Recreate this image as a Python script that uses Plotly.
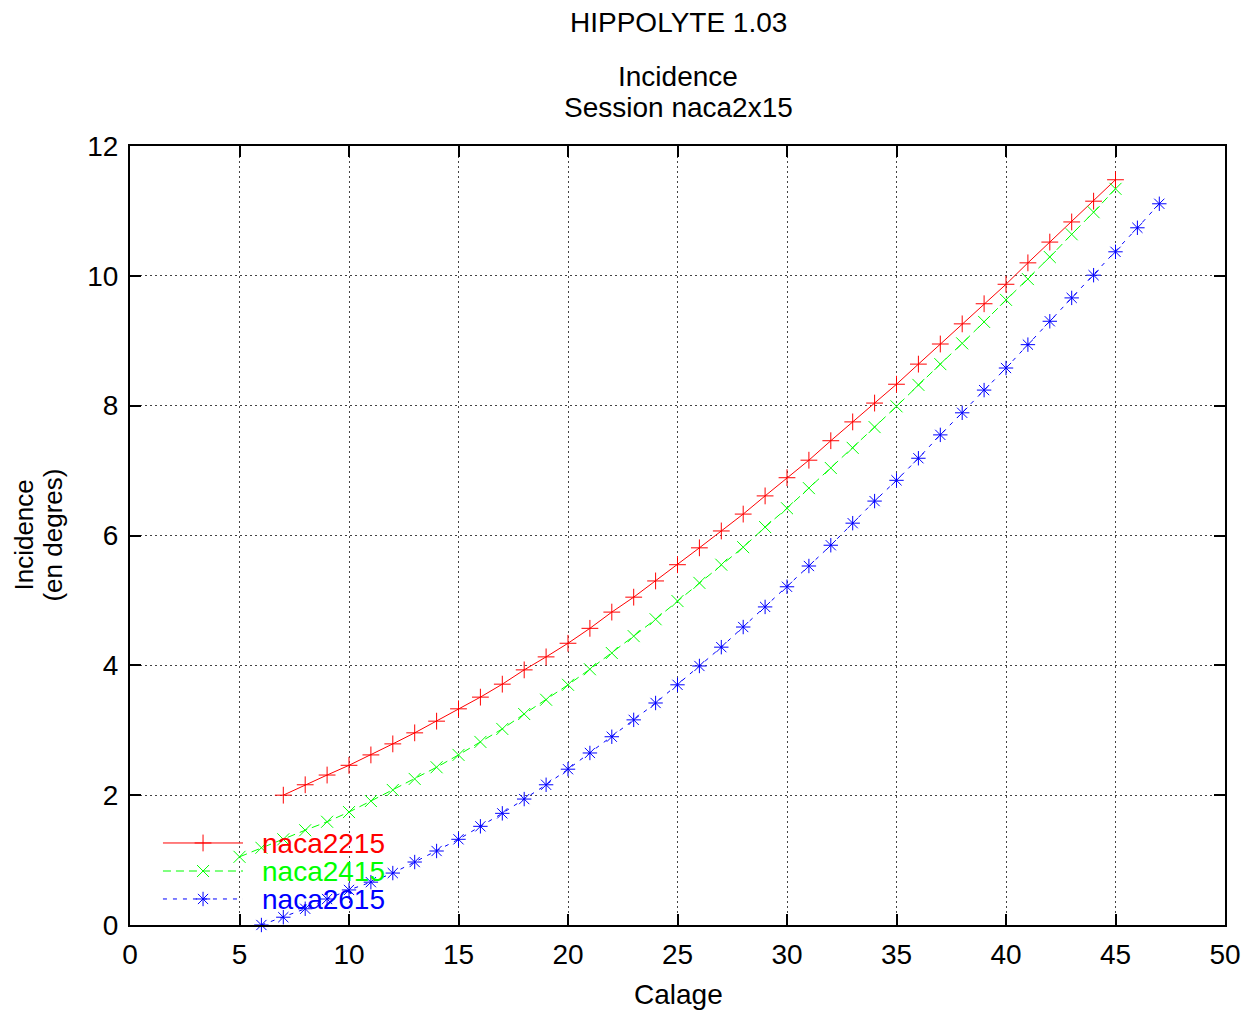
import plotly.graph_objects as go

# ---- data ----
calage_2215 = list(range(7, 46))
incidence_2215 = [2.00, 2.16, 2.31, 2.46, 2.62, 2.79, 2.96, 3.14, 3.33, 3.51,
                  3.71, 3.93, 4.13, 4.34, 4.57, 4.82, 5.05, 5.30, 5.55, 5.81,
                  6.07, 6.33, 6.61, 6.89, 7.16, 7.46, 7.75, 8.04, 8.33, 8.64,
                  8.95, 9.26, 9.57, 9.87, 10.20, 10.52, 10.83, 11.15, 11.48]
calage_2415 = list(range(5, 46))
incidence_2415 = [1.05, 1.19, 1.32, 1.46, 1.59, 1.74, 1.91, 2.08, 2.25, 2.43,
                  2.62, 2.82, 3.02, 3.25, 3.47, 3.70, 3.94, 4.19, 4.45, 4.71,
                  4.99, 5.27, 5.55, 5.82, 6.13, 6.42, 6.73, 7.04, 7.35, 7.67,
                  7.99, 8.32, 8.64, 8.96, 9.29, 9.63, 9.95, 10.29, 10.64, 10.98,
                  11.34]
calage_2615 = list(range(6, 48))
incidence_2615 = [0.00, 0.12, 0.25, 0.40, 0.54, 0.66, 0.80, 0.97, 1.14, 1.32,
                  1.52, 1.72, 1.94, 2.16, 2.40, 2.65, 2.90, 3.16, 3.42, 3.70,
                  3.99, 4.28, 4.59, 4.90, 5.21, 5.53, 5.85, 6.19, 6.53, 6.85,
                  7.19, 7.55, 7.89, 8.24, 8.58, 8.94, 9.30, 9.66, 10.01, 10.37,
                  10.74, 11.11]

series_names = ["naca2215", "naca2415", "naca2615"]
x_ticks = list(range(0, 51, 5))
y_ticks = list(range(0, 13, 2))

FONT = "Liberation Sans, Arial, sans-serif"
FS = 28
colors = ["#ff0000", "#00ff00", "#0000ff"]
dashes = ["solid", "8px,5px", "4px,6px"]
symbols = ["cross-thin", "x-thin", "asterisk"]

fig = go.Figure()
datasets = [(calage_2215, incidence_2215), (calage_2415, incidence_2415), (calage_2615, incidence_2615)]
for (xs, ys), name, c, d, s in zip(datasets, series_names, colors, dashes, symbols):
    fig.add_trace(go.Scatter(
        x=xs, y=ys, name=name, mode="lines+markers",
        line=dict(color=c, width=1, dash=d),
        marker=dict(symbol=s, size=12, color=c, line=dict(color=c, width=1)),
        cliponaxis=False, showlegend=False,
    ))

# manual legend (gnuplot-style key), in an invisible overlay axis spanning [0,1]
leg_y = [0.1053, 0.0693, 0.0334]
shapes = []
annotations = []
for i, (name, c, d, s) in enumerate(zip(series_names, colors, dashes, symbols)):
    shapes.append(dict(type="line", xref="paper", yref="paper",
                       x0=0.0301, x1=0.1032, y0=leg_y[i], y1=leg_y[i],
                       line=dict(color=c, width=1, dash=d)))
    annotations.append(dict(xref="paper", yref="paper", x=0.1187, y=leg_y[i] - 0.001,
                            xanchor="left", yanchor="middle", showarrow=False,
                            text=name, font=dict(family=FONT, size=FS, color=c)))
    fig.add_trace(go.Scatter(
        x=[0.0667], y=[leg_y[i]], xaxis="x2", yaxis="y2", mode="markers",
        marker=dict(symbol=s, size=12, color=c, line=dict(color=c, width=1)),
        showlegend=False, hoverinfo="skip", cliponaxis=False,
    ))

# titles
for txt, yp in [("HIPPOLYTE 1.03", 1.1584), ("Incidence", 1.0886), ("Session naca2x15", 1.0488)]:
    annotations.append(dict(xref="paper", yref="paper", x=0.5005, y=yp,
                            xanchor="center", yanchor="middle", showarrow=False,
                            text=txt, font=dict(family=FONT, size=FS, color="black")))
annotations.append(dict(xref="paper", yref="paper", x=0.5005, y=-0.0893,
                        xanchor="center", yanchor="middle", showarrow=False,
                        text="Calage", font=dict(family=FONT, size=FS, color="black")))
for txt, xp in [("Incidence", -0.0977), ("(en degres)", -0.0712)]:
    annotations.append(dict(xref="paper", yref="paper", x=xp, y=0.5,
                            xanchor="center", yanchor="middle", showarrow=False,
                            textangle=-90,
                            text=txt, font=dict(family=FONT, size=26, color="black")))

axis_common = dict(
    showline=True, linecolor="black", linewidth=2, mirror="allticks",
    ticks="inside", ticklen=11, tickwidth=2, tickcolor="black",
    showgrid=True, gridcolor="#444444", gridwidth=1, griddash="2px,3px",
    zeroline=False, tickfont=dict(family=FONT, size=FS, color="black"),
)

fig.update_layout(
    width=1249, height=1008,
    margin=dict(l=122, r=32, t=138, b=91),
    paper_bgcolor="white", plot_bgcolor="white",
    xaxis=dict(range=[0, 50], tickvals=x_ticks, ticklabelstandoff=3, **axis_common),
    yaxis=dict(range=[0, 12], tickvals=y_ticks, ticklabelstandoff=4, **axis_common),
    xaxis2=dict(overlaying="x", range=[0, 1], visible=False),
    yaxis2=dict(overlaying="y", range=[0, 1], visible=False),
    shapes=shapes, annotations=annotations,
    font=dict(family=FONT, size=FS, color="black"),
    showlegend=False,
)

fig.write_html("out.html")
